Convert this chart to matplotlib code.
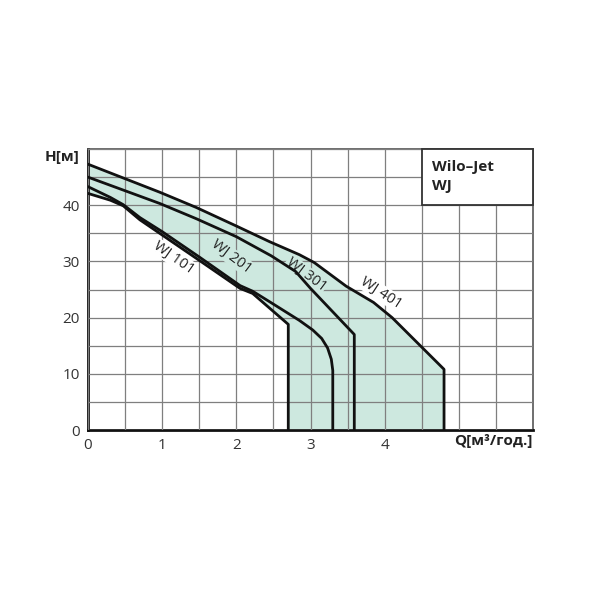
import matplotlib
matplotlib.use('Agg')
import matplotlib.pyplot as plt
from matplotlib.patches import Rectangle

plt.rcParams['font.family'] = ['Open Sans', 'DejaVu Sans']

# pump curves: Q [m3/h], H [m]
q_wj101 = [0, 0.3, 0.475, 0.7, 1.0, 1.51, 2.05, 2.22, 2.7, 2.7]
h_wj101 = [42.1, 40.9, 39.9, 37.4, 34.7, 30.1, 25.2, 24.3, 18.8, 0]

q_wj201 = [0, 0.3, 0.475, 0.7, 1.0, 1.51, 2.05, 2.22, 2.5, 2.85, 3.03, 3.15, 3.23, 3.28, 3.3, 3.3]
h_wj201 = [43.3, 41.4, 40.1, 37.8, 35.3, 30.7, 25.7, 24.7, 22.4, 19.5, 17.8, 16.3, 14.6, 12.6, 10.6, 0]

q_wj301 = [0, 0.97, 1.46, 2.0, 2.47, 2.8, 3.0, 3.59, 3.59]
h_wj301 = [45.0, 40.3, 37.6, 34.4, 31.0, 28.2, 25.2, 17.0, 0]

q_wj401 = [0, 0.97, 1.46, 2.0, 2.45, 2.85, 3.05, 3.48, 3.85, 4.1, 4.8, 4.8]
h_wj401 = [47.3, 42.3, 39.6, 36.3, 33.5, 31.2, 29.8, 25.6, 22.7, 20.0, 10.8, 0]

labels = ['WJ 101', 'WJ 201', 'WJ 301', 'WJ 401']
label_q = [1.15, 1.93, 2.94, 3.95]
label_h = [30.7, 30.9, 27.7, 24.4]
label_rot = [-35, -37, -37, -33]

x_ticks = [0, 0.5, 1, 1.5, 2, 2.5, 3, 3.5, 4, 4.5, 5, 5.5, 6]
x_labels = ['0', '', '1', '', '2', '', '3', '', '4', '', '', '', '']
y_ticks = [0, 5, 10, 15, 20, 25, 30, 35, 40, 45, 50]
y_labels = ['0', '', '10', '', '20', '', '30', '', '40', '', '']

fill_c = '#cde8df'

fig = plt.figure(figsize=(6, 6), dpi=100)
ax = fig.add_axes([0.1467, 0.2833, 0.7417, 0.4683])
ax.set_xlim(0, 6)
ax.set_ylim(0, 50)

# shaded working range: under WJ 401, above WJ 101
poly_q = q_wj401 + q_wj101[::-1]
poly_h = h_wj401 + h_wj101[::-1]
ax.fill(poly_q, poly_h, color=fill_c, lw=0, zorder=1)

ax.set_xticks(x_ticks)
ax.set_xticklabels(x_labels)
ax.set_yticks(y_ticks)
ax.set_yticklabels(y_labels)
ax.tick_params(length=0, labelsize=11, colors='#333333', pad=6)
ax.grid(True, color='#7f7f7f', lw=0.9, zorder=2)
ax.set_axisbelow(False)

for q, h in [(q_wj101, h_wj101), (q_wj201, h_wj201), (q_wj301, h_wj301), (q_wj401, h_wj401)]:
    ax.plot(q, h, color='#111111', lw=2, zorder=5, solid_joinstyle='round')

bg = ['white', fill_c, fill_c, 'white']
for i in range(4):
    ax.text(label_q[i], label_h[i], labels[i], rotation=label_rot[i], ha='center', va='center',
            fontsize=10.5, color='#222222', zorder=4,
            bbox=dict(facecolor=bg[i], edgecolor='none', pad=0.5))

ax.add_patch(Rectangle((4.5, 40), 1.5, 10, facecolor='white', edgecolor='#333333', lw=1.3, zorder=6,
                       clip_on=False))
ax.text(4.64, 46.8, 'Wilo–Jet', fontsize=11, fontweight='bold', color='#222222', va='center', zorder=7)
ax.text(4.64, 43.4, 'WJ', fontsize=11, fontweight='bold', color='#222222', va='center', zorder=7)

for s in ['left', 'bottom']:
    ax.spines[s].set_color('#111111')
    ax.spines[s].set_linewidth(2)
for s in ['top', 'right']:
    ax.spines[s].set_color('#555555')
    ax.spines[s].set_linewidth(1.2)

fig.text(0.075, 0.738, 'H[м]', fontsize=11, fontweight='bold', color='#222222', va='center')
fig.text(0.888, 0.265, 'Q[м³/год.]', fontsize=11, fontweight='bold', color='#222222', va='center', ha='right')

fig.savefig('out.png', dpi=100)
